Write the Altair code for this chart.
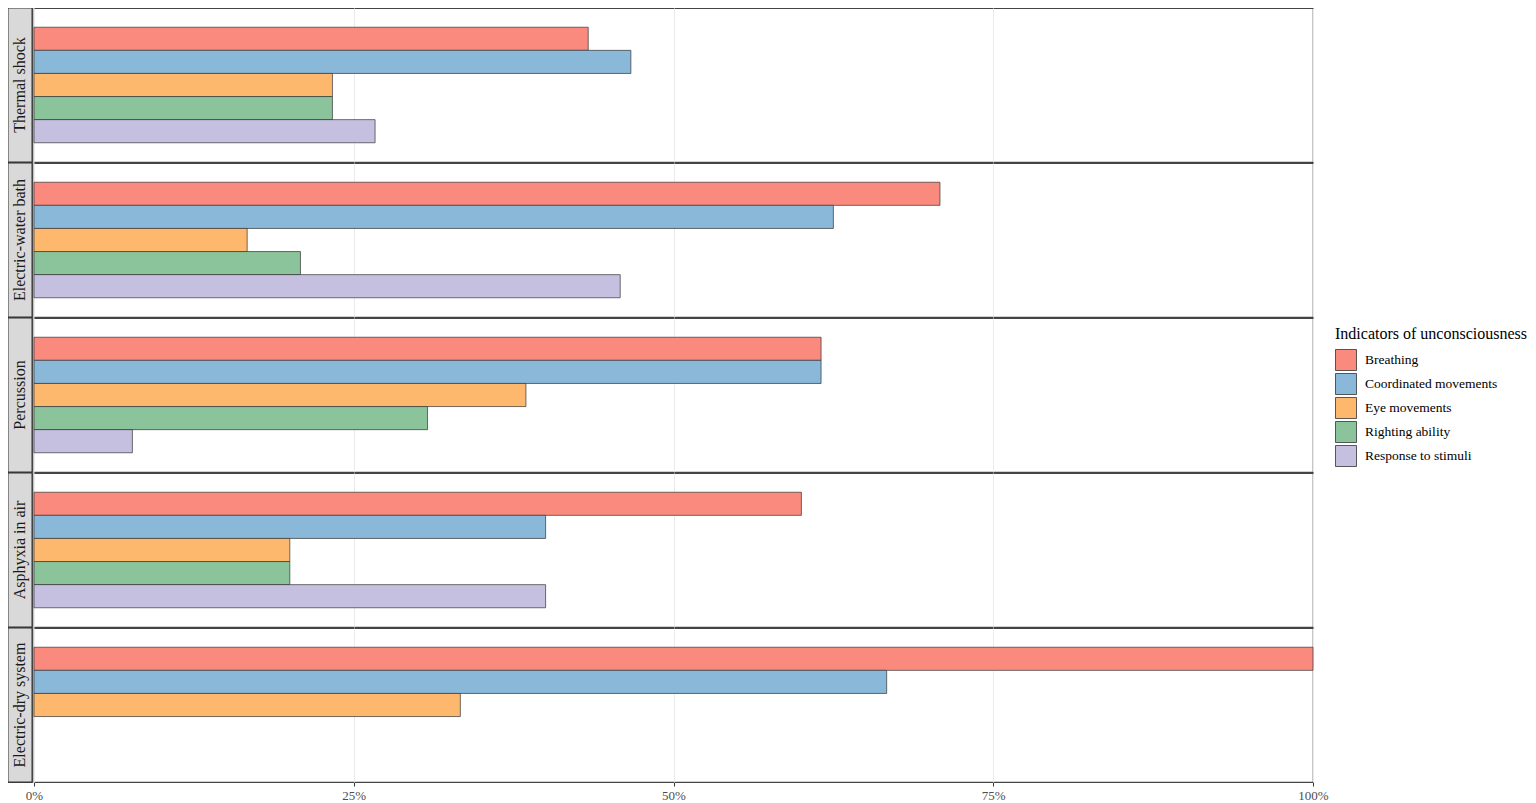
import altair as alt
import pandas as pd

methods = ["Thermal shock", "Electric-water bath", "Percussion", "Asphyxia in air", "Electric-dry system"]
indicators = ["Breathing", "Coordinated movements", "Eye movements", "Righting ability", "Response to stimuli"]
colors = ["#FB8A7E", "#8AB8D8", "#FDB86E", "#8BC39A", "#C5C0E0"]

thermal = [13/30, 14/30, 7/30, 7/30, 8/30]
water = [17/24, 15/24, 4/24, 5/24, 11/24]
percussion = [8/13, 8/13, 5/13, 4/13, 1/13]
asphyxia = [0.6, 0.4, 0.2, 0.2, 0.4]
dry = [1.0, 2/3, 1/3]

rows = []
for m, vals in zip(methods, [thermal, water, percussion, asphyxia, dry]):
    for ind, v in zip(indicators, vals):
        rows.append({"method": m, "indicator": ind, "value": v})
df = pd.DataFrame(rows)
strip_df = pd.DataFrame({"method": methods})

FONT = "Liberation Serif"
PANEL_H = 154

bars = alt.Chart(df).mark_bar(stroke="#333333", strokeWidth=0.7).encode(
    x=alt.X("value:Q", scale=alt.Scale(domain=[0, 1], nice=False, zero=True),
            axis=alt.Axis(title=None, format=".0%", values=[0, 0.25, 0.5, 0.75, 1],
                          grid=True, gridColor="#ebebeb", domain=False, labelFlush=False,
                          tickColor="#333333", tickSize=4, labelFont=FONT,
                          labelFontSize=13, labelColor="#4d4d4d", labelPadding=3)),
    y=alt.Y("indicator:N", sort=indicators,
            scale=alt.Scale(paddingInner=0, paddingOuter=0.833),
            axis=None),
    color=alt.Color("indicator:N", sort=indicators,
                    scale=alt.Scale(domain=indicators, range=colors),
                    legend=alt.Legend(title="Indicators of unconsciousness", orient="none",
                                      legendX=1327, legendY=318, titleLimit=400, labelLimit=300,
                                      titleFont=FONT, titleFontSize=16, titleFontWeight="normal",
                                      titleColor="#000000", titlePadding=7,
                                      labelFont=FONT, labelFontSize=13.5, labelColor="#000000",
                                      symbolType="square", symbolSize=441,
                                      symbolStrokeColor="#333333", symbolStrokeWidth=0.8,
                                      symbolOpacity=1, rowPadding=-4, labelOffset=8)),
).properties(width=1279, height=PANEL_H).facet(
    row=alt.Row("method:N", sort=methods, header=alt.Header(title=None, labels=False)),
    spacing=1, bounds="flush",
)

strip_base = alt.Chart(strip_df)
strip_rect = strip_base.mark_rect(fill="#d9d9d9", stroke="#333333", strokeWidth=1).encode(
    x=alt.value(0), x2=alt.value(24), y=alt.value(0), y2=alt.value(PANEL_H)
)
strip_text = strip_base.mark_text(font=FONT, fontSize=16, angle=270, color="#1a1a1a").encode(
    x=alt.value(12), y=alt.value(PANEL_H / 2), text="method:N"
)
strip = alt.layer(strip_rect, strip_text).properties(width=24, height=PANEL_H).facet(
    row=alt.Row("method:N", sort=methods, header=alt.Header(title=None, labels=False)),
    spacing=1, bounds="flush",
)

chart = alt.hconcat(strip, bars, spacing=-9).properties(
    background="white", padding={"left": -2, "top": -2, "right": 0, "bottom": 0}
).configure_view(stroke="#444444", strokeWidth=1.2)

chart.save("out.html", embed_options={"renderer": "svg", "actions": False})
